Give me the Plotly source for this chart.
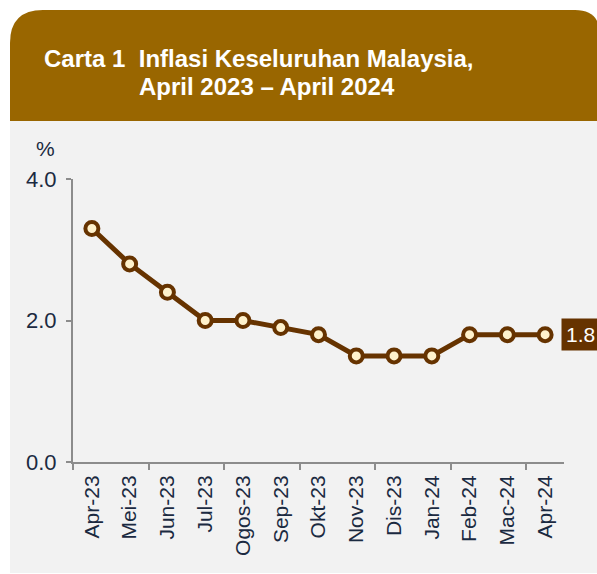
import plotly.graph_objects as go

months = ["Apr-23", "Mei-23", "Jun-23", "Jul-23", "Ogos-23", "Sep-23", "Okt-23",
          "Nov-23", "Dis-23", "Jan-24", "Feb-24", "Mac-24", "Apr-24"]
inflation = [3.3, 2.8, 2.4, 2.0, 2.0, 1.9, 1.8, 1.5, 1.5, 1.5, 1.8, 1.8, 1.8]
y_ticks = [0.0, 2.0, 4.0]
title_line1 = "Carta 1  Inflasi Keseluruhan Malaysia,"
title_line2 = "April 2023 \u2013 April 2024"

W, H = 597, 574
ML, MR, MT, MB = 73, 33, 179, 112
PW, PH = W - ML - MR, H - MT - MB

def px(x):
    return (x - ML) / PW

def py(y):
    return (H - MB - y) / PH

FONT = "Arial, Liberation Sans, sans-serif"
TXT = "#1B2A41"
BROWN = "#663300"
HEADER = "#996600"
AX = "#8C8C8C"

xs = list(range(len(months)))

fig = go.Figure()
fig.add_trace(go.Scatter(
    x=xs, y=inflation, mode="lines+markers",
    line=dict(color=BROWN, width=5),
    marker=dict(size=13, color="#FFF2CC", line=dict(color=BROWN, width=4)),
    cliponaxis=False, hoverinfo="skip", showlegend=False,
))

header_path = (
    f"M {px(10)},{py(121)} L {px(10)},{py(43)} Q {px(10)},{py(10)} {px(43)},{py(10)} "
    f"L {px(575)},{py(10)} Q {px(600)},{py(10)} {px(600)},{py(35)} L {px(600)},{py(121)} Z"
)
shapes = [
    dict(type="rect", xref="paper", yref="paper", x0=px(10), x1=px(600), y0=py(121), y1=py(573),
         fillcolor="#F2F2F2", line=dict(width=0), layer="below"),
    dict(type="path", xref="paper", yref="paper", path=header_path,
         fillcolor=HEADER, line=dict(width=0), layer="below"),
]

annotations = [
    dict(xref="paper", yref="paper", x=px(42), y=py(58), xanchor="left", yanchor="middle",
         text=f"<b>{title_line1}</b>", showarrow=False,
         font=dict(family=FONT, size=24, color="white")),
    dict(xref="paper", yref="paper", x=px(137), y=py(86), xanchor="left", yanchor="middle",
         text=f"<b>{title_line2}</b>", showarrow=False,
         font=dict(family=FONT, size=24, color="white")),
    dict(xref="paper", yref="paper", x=px(45.5), y=py(148), xanchor="center", yanchor="middle",
         text="%", showarrow=False, font=dict(family=FONT, size=21, color=TXT)),
    dict(xref="x", yref="y", x=xs[-1], y=inflation[-1], xanchor="left", yanchor="middle",
         xshift=16, text=f"{inflation[-1]:.1f}", showarrow=False,
         bgcolor=BROWN, borderpad=4, font=dict(family=FONT, size=21, color="white")),
]

fig.update_layout(
    width=W, height=H,
    margin=dict(l=ML, r=MR, t=MT, b=MB, pad=0),
    paper_bgcolor="white", plot_bgcolor="rgba(0,0,0,0)",
    shapes=shapes, annotations=annotations,
    font=dict(family=FONT, color=TXT),
)
fig.update_xaxes(
    range=[-0.5, len(months) - 0.5], tickmode="array", tickvals=xs, ticktext=months,
    tickangle=-90, ticks="", showgrid=False, zeroline=False,
    showline=True, linecolor=AX, linewidth=2,
    tickfont=dict(family=FONT, size=21, color=TXT), ticklabelstandoff=3,
    minor=dict(tickvals=[i - 0.5 for i in range(0, len(months), 2)], ticks="outside",
               ticklen=6, tickcolor=AX, tickwidth=2, showgrid=False),
)
fig.update_yaxes(
    range=[0, 4], tickmode="array", tickvals=y_ticks, ticktext=[f"{v:.1f}" for v in y_ticks],
    ticks="outside", ticklen=5, tickcolor=AX, tickwidth=2,
    showgrid=False, zeroline=False, showline=True, linecolor=AX, linewidth=2,
    tickfont=dict(family=FONT, size=22, color=TXT), ticklabelstandoff=5,
)

fig.write_html(
    "out.html",
    config={"displayModeBar": False, "staticPlot": True},
    post_script="document.body.style.margin='0';document.body.style.overflow='hidden';",
)
